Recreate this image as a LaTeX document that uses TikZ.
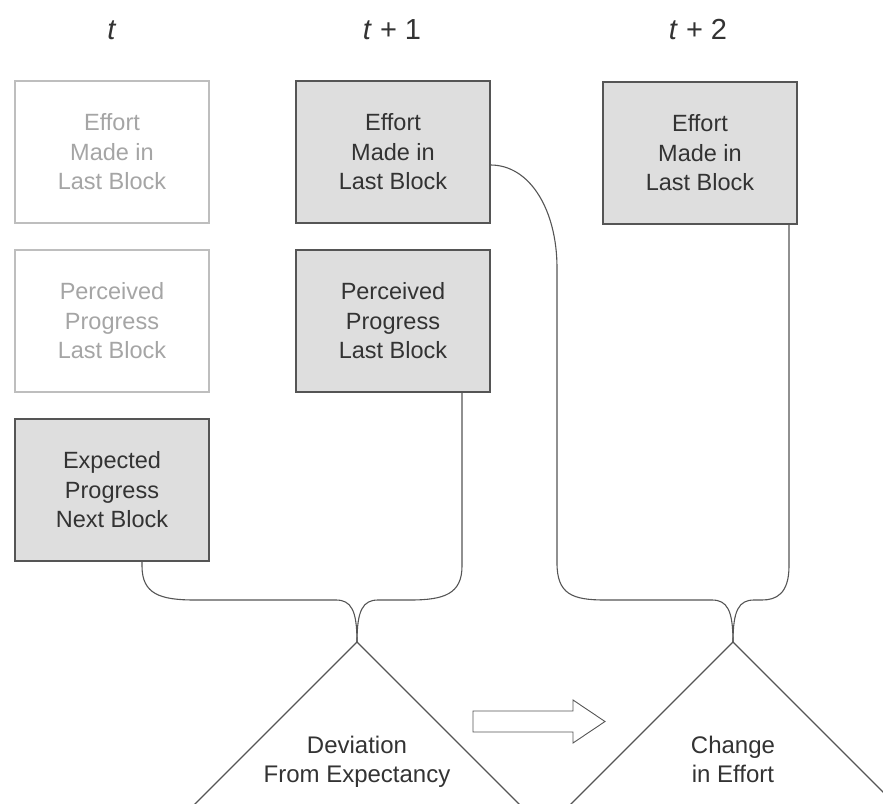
\documentclass[tikz,border=0pt]{standalone}
\usepackage{fontspec}
\setmainfont{Liberation Sans}
\usepackage{tikz}
\usetikzlibrary{calc}
\definecolor{boxfill}{RGB}{222,222,222}
\definecolor{boxline}{RGB}{85,85,85}
\definecolor{inktext}{RGB}{51,51,51}
\definecolor{fadeline}{RGB}{190,190,190}
\definecolor{fadetext}{RGB}{165,165,165}

\begin{document}
\begin{tikzpicture}[x=1pt, y=-1pt,
  block/.style={rectangle, draw=boxline, fill=boxfill, line width=1.1pt, minimum width=194pt, minimum height=142pt, align=center, text=inktext, font=\fontsize{23.5}{29.5}\selectfont},
  faded/.style={block, draw=fadeline, fill=white, text=fadetext},
  time/.style={text=inktext, font=\fontsize{29}{34}\selectfont},
  tri/.style={align=center, text=inktext, font=\fontsize{24}{29}\selectfont},
  link/.style={draw=boxline, line width=1.1pt}]
\clip (0,0) rectangle (883,803);
% time labels
\node[time] (t0) at (112,30) {\textit{t}};
\node[time] (t1) at (392,30) {\textit{t} + 1};
\node[time] (t2) at (698,30) {\textit{t} + 2};
% boxes
\node[faded] (e0) at (112,152) {Effort\\Made in\\Last Block};
\node[block] (e1) at (393,152) {Effort\\Made in\\Last Block};
\node[block] (e2) at (700,153) {Effort\\Made in\\Last Block};
\node[faded] (p0) at (112,321) {Perceived\\Progress\\Last Block};
\node[block] (p1) at (393,321) {Perceived\\Progress\\Last Block};
\node[block] (x0) at (112,490) {Expected\\Progress\\Next Block};
% triangles
\coordinate (dev) at (357,642);
\coordinate (chg) at (733,642);
\draw[link] ($(dev)+(-175,175)$) -- (dev) -- ($(dev)+(175,175)$);
\draw[link] ($(chg)+(-175,175)$) -- (chg) -- ($(chg)+(175,175)$);
\node[tri] (devtxt) at (357,762) {Deviation\\From Expectancy};
\node[tri] (chgtxt) at (733,759) {Change\\in Effort};
% block arrow
\draw[link, line width=0.9pt] (473,711) -- (573,711) -- (573,700) -- (605,721.5) -- (573,743) -- (573,732) -- (473,732) -- cycle;
% connectors
\draw[link] ($(x0.south)+(30,0)$) -- (142,566) .. controls (142,594) and (160,600) .. (195,600) -- (336,600) .. controls (351,600) and (357,610) .. (dev);
\draw[link] ($(p1.south)+(69,0)$) -- (462,566) .. controls (462,594) and (444,600) .. (410,600) -- (378,600) .. controls (363,600) and (357,610) .. (dev);
\draw[link] ($(e1.east)+(0,13)$) .. controls (530,165) and (557,210) .. (557,268) -- (557,563) .. controls (557,594) and (572,600) .. (605,600) -- (712,600) .. controls (727,600) and (733,610) .. (chg);
\draw[link] ($(e2.south)+(89,0)$) -- (789,566) .. controls (789,594) and (776,600) .. (762,600) -- (754,600) .. controls (739,600) and (733,610) .. (chg);
\end{tikzpicture}
\end{document}
